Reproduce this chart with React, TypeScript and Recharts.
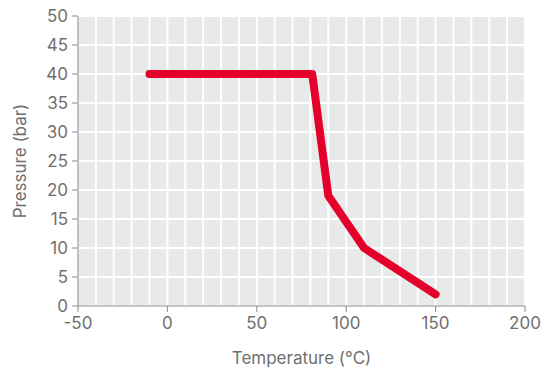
import { LineChart, Line, XAxis, YAxis, CartesianGrid } from "recharts";

const temps = [-10, 81, 90, 110, 150];
const pressures = [40, 40, 19, 10, 2];
const xTicks = [-50, 0, 50, 100, 150, 200];
const yTicks = [0, 5, 10, 15, 20, 25, 30, 35, 40, 45, 50];
const xGrid = [-40, -30, -20, -10, 0, 10, 20, 30, 40, 50, 60, 70, 80, 90, 100, 110, 120, 130, 140, 150, 160, 170, 180, 190, 200];

const data = temps.map((t, i) => ({ t, p: pressures[i] }));

const tickStyle = { fontSize: 17, fill: "#707070", fontFamily: "Inter, sans-serif" };

// grid every 10 degrees, placed with the x axis scale when available
const vGrid = (props: any) => {
  const { xAxis, offset } = props;
  if (xAxis && typeof xAxis.scale === "function") return xGrid.map((v) => xAxis.scale(v));
  return xGrid.map((v) => offset.left + ((v + 50) / 250) * offset.width);
};

export default function App() {
  return (
    <div style={{ position: "absolute", left: 0, top: 0, background: "#fff" }}>
      <LineChart width={546} height={372} data={data} margin={{ top: 16, right: 21, left: 0, bottom: 4 }}>
        <CartesianGrid
          fill="#e8e9e9"
          stroke="#ffffff"
          strokeWidth={2}
          verticalCoordinatesGenerator={vGrid}
          horizontalValues={yTicks}
        />
        <XAxis
          dataKey="t"
          type="number"
          domain={[-50, 200]}
          ticks={xTicks}
          height={62}
          stroke="#8a8a8a"
          tickSize={6}
          tick={tickStyle}
          tickMargin={5}
          label={{ value: "Temperature (°C)", position: "insideBottom", offset: 4, style: { ...tickStyle, fontSize: 17 } }}
        />
        <YAxis
          type="number"
          domain={[0, 50]}
          ticks={yTicks}
          width={78}
          stroke="#8a8a8a"
          tickSize={6}
          tick={tickStyle}
          tickMargin={4}
          label={{ value: "Pressure (bar)", angle: -90, position: "insideLeft", offset: 20, style: { ...tickStyle, fontSize: 17, textAnchor: "middle" } }}
        />
        <Line
          dataKey="p"
          type="linear"
          stroke="#e4002b"
          strokeWidth={8}
          strokeLinecap="round"
          strokeLinejoin="round"
          dot={false}
          isAnimationActive={false}
        />
      </LineChart>
    </div>
  );
}
